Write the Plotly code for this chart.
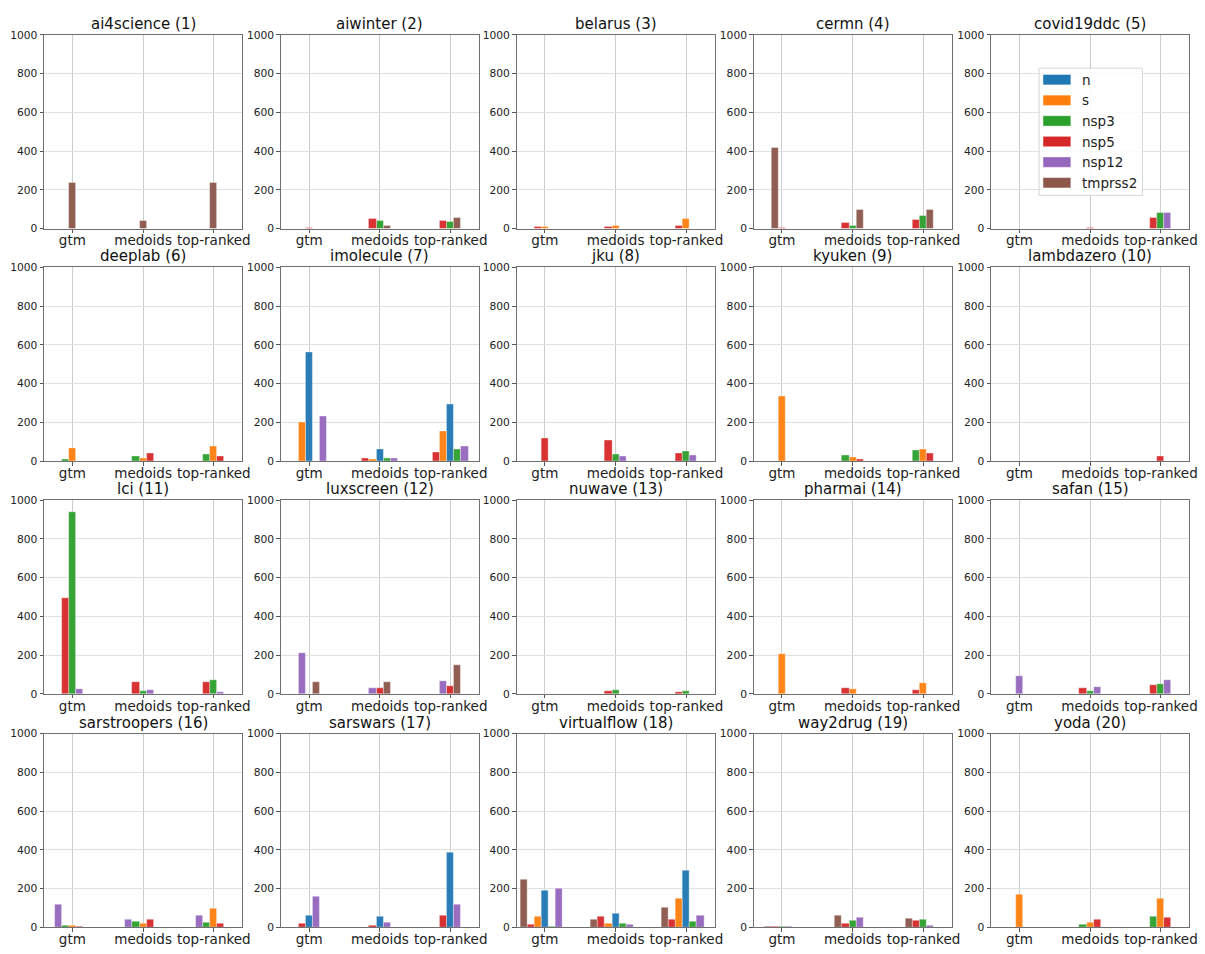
import plotly.graph_objects as go

METHODS = ["gtm", "medoids", "top-ranked"]
TARGETS = ["n", "s", "nsp3", "nsp5", "nsp12", "tmprss2"]
COLORS = {"n": "#1f77b4", "s": "#ff7f0e", "nsp3": "#2ca02c",
          "nsp5": "#d62728", "nsp12": "#9467bd", "tmprss2": "#8c564b"}
TEAMS = ["ai4science", "aiwinter", "belarus", "cermn", "covid19ddc",
         "deeplab", "imolecule", "jku", "kyuken", "lambdazero",
         "lci", "luxscreen", "nuwave", "pharmai", "safan",
         "sarstroopers", "sarswars", "virtualflow", "way2drug", "yoda"]

# per team: for each method (gtm, medoids, top-ranked) the targets in plotting order with counts
AI4SCIENCE = [[("tmprss2", 237)], [("tmprss2", 39)], [("tmprss2", 237)]]
AIWINTER = [[("nsp5", 5)],
            [("nsp5", 51), ("nsp3", 39), ("tmprss2", 17)],
            [("nsp5", 39), ("nsp3", 34), ("tmprss2", 54)]]
BELARUS = [[("nsp5", 10), ("s", 8)],
           [("nsp5", 10), ("s", 17)],
           [("nsp5", 17), ("s", 51)]]
CERMN = [[("tmprss2", 415), ("nsp5", 3)],
         [("nsp5", 31), ("nsp3", 17), ("tmprss2", 98)],
         [("nsp5", 46), ("nsp3", 64), ("tmprss2", 95)]]
COVID19DDC = [[],
              [("nsp5", 2)],
              [("nsp5", 56), ("nsp3", 80), ("nsp12", 81)]]
DEEPLAB = [[("nsp3", 8), ("s", 68)],
           [("nsp3", 24), ("s", 15), ("nsp5", 42)],
           [("nsp3", 34), ("s", 78), ("nsp5", 25)]]
IMOLECULE = [[("nsp5", 0), ("s", 200), ("n", 559), ("nsp3", 0), ("nsp12", 232)],
             [("nsp5", 17), ("s", 8), ("n", 59), ("nsp3", 17), ("nsp12", 17)],
             [("nsp5", 46), ("s", 153), ("n", 292), ("nsp3", 61), ("nsp12", 76)]]
JKU = [[("nsp5", 119)],
       [("nsp5", 107), ("nsp3", 37), ("nsp12", 25)],
       [("nsp5", 42), ("nsp3", 49), ("nsp12", 29)]]
KYUKEN = [[("s", 336)],
          [("nsp3", 29), ("s", 20), ("nsp5", 8)],
          [("nsp3", 54), ("s", 59), ("nsp5", 42)]]
LAMBDAZERO = [[],
              [("nsp5", 1)],
              [("nsp5", 25)]]
LCI = [[("nsp5", 492), ("nsp3", 937), ("nsp12", 24)],
       [("nsp5", 59), ("nsp3", 15), ("nsp12", 20)],
       [("nsp5", 59), ("nsp3", 70), ("nsp12", 12)]]
LUXSCREEN = [[("nsp12", 211), ("nsp5", 0), ("tmprss2", 59)],
             [("nsp12", 32), ("nsp5", 29), ("tmprss2", 59)],
             [("nsp12", 68), ("nsp5", 42), ("tmprss2", 148)]]
NUWAVE = [[],
          [("nsp5", 15), ("nsp3", 20)],
          [("nsp5", 10), ("nsp3", 17)]]
PHARMAI = [[("s", 207)],
           [("nsp5", 31), ("s", 24)],
           [("nsp5", 19), ("s", 54)]]
SAFAN = [[("nsp12", 93)],
         [("nsp5", 32), ("nsp3", 15), ("nsp12", 37)],
         [("nsp5", 48), ("nsp3", 51), ("nsp12", 71)]]
SARSTROOPERS = [[("nsp12", 117), ("nsp3", 8), ("s", 8), ("nsp5", 5)],
                [("nsp12", 42), ("nsp3", 32), ("s", 20), ("nsp5", 39)],
                [("nsp12", 63), ("nsp3", 27), ("s", 97), ("nsp5", 20)]]
SARSWARS = [[("nsp5", 19), ("n", 63), ("nsp12", 161)],
            [("nsp5", 10), ("n", 54), ("nsp12", 27)],
            [("nsp5", 61), ("n", 385), ("nsp12", 117)]]
VIRTUALFLOW = [[("tmprss2", 246), ("nsp5", 15), ("s", 56), ("n", 190), ("nsp3", 3), ("nsp12", 202)],
               [("tmprss2", 42), ("nsp5", 54), ("s", 20), ("n", 70), ("nsp3", 20), ("nsp12", 15)],
               [("tmprss2", 100), ("nsp5", 42), ("s", 149), ("n", 295), ("nsp3", 29), ("nsp12", 63)]]
WAY2DRUG = [[("tmprss2", 2), ("nsp5", 2), ("nsp3", 2), ("nsp12", 2)],
            [("tmprss2", 63), ("nsp5", 20), ("nsp3", 36), ("nsp12", 49)],
            [("tmprss2", 44), ("nsp5", 37), ("nsp3", 42), ("nsp12", 10)]]
YODA = [[("s", 168)],
        [("nsp3", 15), ("s", 27), ("nsp5", 42)],
        [("nsp3", 56), ("s", 149), ("nsp5", 51)]]

TEAM_DATA = [AI4SCIENCE, AIWINTER, BELARUS, CERMN, COVID19DDC,
             DEEPLAB, IMOLECULE, JKU, KYUKEN, LAMBDAZERO,
             LCI, LUXSCREEN, NUWAVE, PHARMAI, SAFAN,
             SARSTROOPERS, SARSWARS, VIRTUALFLOW, WAY2DRUG, YODA]

Y_TICKS = [0, 200, 400, 600, 800, 1000]

# ---- layout geometry (pixels) ----
W, H = 1205, 954
COL_LEFT = [44.3, 282.7, 520.0, 758.7, 997.7]
PANEL_W = 199.5
ROW_TOP = [29.3, 265.0, 501.0, 737.7]
PANEL_H = 196.5
BAR_W = 0.1
FONT = "DejaVu Sans, Arial, sans-serif"

# legend box geometry (pixels)
LEG_BOX = (1046, 63, 1150, 192)
LEG_FIRST_Y = 74.7
LEG_PITCH = 20.9
LEG_PATCH_X = (1050, 1078)
LEG_PATCH_H = 10.5
LEG_TEXT_X = 1087

fig = go.Figure()
layout = dict(
    width=W, height=H,
    margin=dict(l=0, r=0, t=0, b=0),
    paper_bgcolor="white", plot_bgcolor="white",
    barmode="overlay", bargap=0,
    font=dict(family=FONT, color="#222222"),
    showlegend=False,
)
annotations = []
shapes = []

for t, (team, groups) in enumerate(zip(TEAMS, TEAM_DATA)):
    r, c = divmod(t, 5)
    k = t + 1
    xa = "x" if k == 1 else f"x{k}"
    ya = "y" if k == 1 else f"y{k}"
    per_target = {}
    for m, group in enumerate(groups):
        n = len(group)
        for i, (tgt, val) in enumerate(group):
            d = per_target.setdefault(tgt, {"x": [], "y": [], "off": []})
            d["x"].append(m)
            d["y"].append(val)
            d["off"].append((i - n // 2 - 0.5) * BAR_W)
    for tgt in TARGETS:
        if tgt not in per_target:
            continue
        d = per_target[tgt]
        fig.add_trace(go.Bar(
            x=d["x"], y=d["y"], offset=d["off"], width=BAR_W,
            name=tgt, legendgroup=tgt,
            marker=dict(color=COLORS[tgt], opacity=0.95,
                        line=dict(color="rgba(255,255,255,0.45)", width=0.8)),
            xaxis=xa, yaxis=ya, hoverinfo="name+y",
        ))
    x0 = COL_LEFT[c] / W
    x1 = (COL_LEFT[c] + PANEL_W) / W
    y1 = 1 - ROW_TOP[r] / H
    y0 = 1 - (ROW_TOP[r] + PANEL_H) / H
    axis_common = dict(showline=True, linecolor="#707070", linewidth=1, mirror=True,
                       ticks="outside", ticklen=3.5, tickcolor="#555555", zeroline=False)
    layout["xaxis" if k == 1 else f"xaxis{k}"] = dict(
        domain=[x0, x1], anchor=ya, range=[-0.4, 2.4],
        tickmode="array", tickvals=[0, 1, 2], ticktext=METHODS,
        tickfont=dict(size=13.5, family=FONT, color="#222222"),
        ticklabelstandoff=-4,
        showgrid=True, gridcolor="#cdcdcd", gridwidth=1, **axis_common)
    layout["yaxis" if k == 1 else f"yaxis{k}"] = dict(
        domain=[y0, y1], anchor=xa, range=[0, 1000],
        tickmode="array", tickvals=Y_TICKS,
        tickfont=dict(size=10.7, family=FONT, color="#222222"),
        showgrid=True, gridcolor="#e0e0e0", gridwidth=1, **axis_common)
    annotations.append(dict(
        text=f"{team} ({k})", xref="paper", yref="paper",
        x=(x0 + x1) / 2, y=y1, xanchor="center", yanchor="bottom", yshift=0,
        showarrow=False, font=dict(size=15, family=FONT, color="#111111")))

# legend drawn with shapes + text
bx0, by0, bx1, by1 = LEG_BOX
shapes.append(dict(type="rect", xref="paper", yref="paper",
                   x0=bx0 / W, x1=bx1 / W, y0=1 - by1 / H, y1=1 - by0 / H,
                   fillcolor="rgba(255,255,255,0.85)", line=dict(color="#d6d6d6", width=1),
                   layer="above"))
for i, tgt in enumerate(TARGETS):
    cy = LEG_FIRST_Y + i * LEG_PITCH
    shapes.append(dict(type="rect", xref="paper", yref="paper",
                       x0=LEG_PATCH_X[0] / W, x1=LEG_PATCH_X[1] / W,
                       y0=1 - (cy + LEG_PATCH_H / 2) / H, y1=1 - (cy - LEG_PATCH_H / 2) / H,
                       fillcolor=COLORS[tgt], line=dict(color="rgba(255,255,255,0.5)", width=0.8),
                       layer="above"))
    annotations.append(dict(
        text=tgt, xref="paper", yref="paper", x=LEG_TEXT_X / W, y=1 - cy / H,
        xanchor="left", yanchor="middle", showarrow=False,
        font=dict(size=13.5, family=FONT, color="#222222")))

layout["annotations"] = annotations
layout["shapes"] = shapes
fig.update_layout(**layout)
fig.write_html("out.html")
